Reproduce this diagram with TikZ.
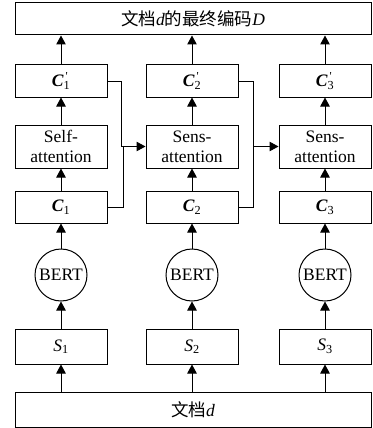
\documentclass[tikz,border=0pt]{standalone}
\usepackage{fontspec}
\setmainfont{Liberation Serif}
\newfontfamily\cjk{Noto Sans CJK SC}
\usetikzlibrary{arrows.meta}
\usetikzlibrary{calc}

\newcommand{\vc}[1]{\textbf{\textit{C}}\textsubscript{#1}}
\newcommand{\vcp}[1]{\textbf{\textit{C}}\makebox[0pt][l]{\textsuperscript{\,\textquotesingle}}\textsubscript{#1}}

\tikzset{
    box/.style={draw, line width=1pt, inner sep=0pt, minimum width=92pt, minimum height=32pt, align=center},
    wide/.style={box, minimum width=356pt},
    bert/.style={draw, line width=1pt, circle, inner sep=0pt, minimum size=52pt},
    arr/.style={line width=1pt, -{Triangle[length=9pt,width=9.5pt]}},
    ln/.style={line width=1pt}
}

\begin{document}
\begin{tikzpicture}[x=1pt, y=-1pt, font=\fontsize{17.5}{20}\selectfont]
    \useasboundingbox (0,0) rectangle (372,428);

    %% columns
    \def\Xi{61};
    \def\Xii{192};
    \def\Xiii{325};

    %% top and bottom boxes
    \node[wide] (enc) at (193,19) {{\cjk 文档}\textit{d}{\cjk 的最终编码}\textit{D}};
    \node[wide, minimum height=35pt] (doc) at (193,409.5) {{\cjk 文档}\textit{d}};

    %% sentences
    \node[box, minimum height=35pt] (S1) at (\Xi,346.5) {\textit{S}\textsubscript{1}};
    \node[box, minimum height=35pt] (S2) at (\Xii,346.5) {\textit{S}\textsubscript{2}};
    \node[box, minimum height=35pt] (S3) at (\Xiii,346.5) {\textit{S}\textsubscript{3}};

    %% encoders
    \node[bert] (B1) at (\Xi,275) {BERT};
    \node[bert] (B2) at (\Xii,275) {BERT};
    \node[bert] (B3) at (\Xiii,275) {BERT};

    %% sentence vectors
    \node[box] (C1) at (\Xi,207) {\vc{1}};
    \node[box] (C2) at (\Xii,207) {\vc{2}};
    \node[box] (C3) at (\Xiii,207) {\vc{3}};

    %% attention
    \node[box, minimum height=43pt] (att1) at (\Xi,146.5) {Self-\\attention};
    \node[box, minimum height=43pt] (att2) at (\Xii,146.5) {Sens-\\attention};
    \node[box, minimum height=43pt] (att3) at (\Xiii,146.5) {Sens-\\attention};

    %% new vectors
    \node[box] (Cp1) at (\Xi,81) {\vcp{1}};
    \node[box] (Cp2) at (\Xii,81) {\vcp{2}};
    \node[box] (Cp3) at (\Xiii,81) {\vcp{3}};

    %% vertical arrows
    \foreach \i in {1,2,3} {
        \draw[arr] (doc.north -| S\i) -- (S\i);
        \draw[arr] (S\i) -- (B\i);
        \draw[arr] (B\i) -- (C\i);
        \draw[arr] (C\i) -- (att\i);
        \draw[arr] (att\i) -- (Cp\i);
        \draw[arr] (Cp\i) -- (enc.south -| Cp\i);
    }

    %% links to the next attention
    \coordinate (m1) at ([xshift=14pt]C1.east |- att2.west);
    \coordinate (m2) at ([xshift=15pt]C2.east |- att3.west);
    \draw[ln] (Cp1.east) -| (m1);
    \draw[ln] (C1.east) -| ([xshift=2pt]m1);
    \draw[arr] (m1) -- (att2.west);
    \draw[ln] (Cp2.east) -| (m2);
    \draw[ln] (C2.east) -| (m2);
    \draw[arr] (m2) -- (att3.west);
\end{tikzpicture}
\end{document}
